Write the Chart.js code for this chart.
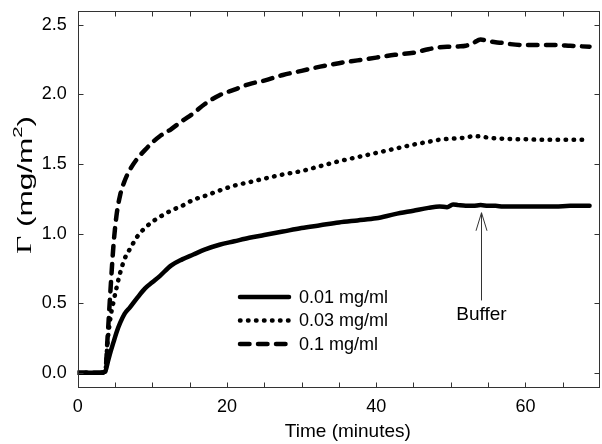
<!DOCTYPE html>
<html>
<head>
<meta charset="utf-8">
<script src="https://cdn.jsdelivr.net/npm/chart.js@4.4.1/dist/chart.umd.min.js"></script>
<style>
  html, body { margin: 0; padding: 0; background: #fff; }
  canvas { display: block; }
</style>
</head>
<body>
<canvas id="chart" width="602" height="444"></canvas>
<script>
// Adsorbed amount (mg/m2) against time (minutes)
const time = [0, 1, 2, 3, 3.7, 4.0, 4.4, 4.8, 5.2, 5.7, 6.3, 7, 8, 9, 10, 11, 12.5, 14, 15.5, 17, 19, 21, 23, 25,
  27.5, 30, 32.5, 35, 37.5, 40, 42.5, 45, 47, 48.5, 49.5, 50.3, 51, 52, 53, 54, 55, 56, 57, 58, 60, 62, 64, 66, 68.6];

const conc001 = [0, 0, 0, 0, 0.01, 0.07, 0.15, 0.22, 0.29, 0.36, 0.425, 0.47, 0.54, 0.605, 0.65, 0.695, 0.77, 0.815,
  0.85, 0.885, 0.92, 0.945, 0.97, 0.99, 1.015, 1.04, 1.06, 1.08, 1.095, 1.11, 1.14, 1.165, 1.185, 1.195, 1.19, 1.21,
  1.205, 1.2, 1.2, 1.205, 1.2, 1.2, 1.195, 1.195, 1.195, 1.195, 1.195, 1.2, 1.2];

const conc003 = [0, 0, 0, 0, 0.01, 0.22, 0.40, 0.51, 0.61, 0.72, 0.82, 0.89, 0.98, 1.04, 1.085, 1.12, 1.165, 1.2,
  1.243, 1.27, 1.31, 1.345, 1.37, 1.395, 1.425, 1.45, 1.485, 1.52, 1.55, 1.58, 1.61, 1.64, 1.66, 1.675, 1.68, 1.683,
  1.686, 1.69, 1.70, 1.698, 1.69, 1.685, 1.682, 1.68, 1.678, 1.675, 1.675, 1.675, 1.675];

const conc01 = [0, 0, 0, 0, 0.01, 0.25, 0.6, 0.92, 1.13, 1.28, 1.38, 1.46, 1.54, 1.6, 1.655, 1.7, 1.75, 1.81, 1.865,
  1.93, 1.995, 2.035, 2.075, 2.1, 2.14, 2.17, 2.2, 2.225, 2.245, 2.265, 2.285, 2.3, 2.325, 2.34, 2.343, 2.343, 2.345,
  2.35, 2.37, 2.395, 2.385, 2.375, 2.37, 2.362, 2.355, 2.355, 2.355, 2.35, 2.343];

const seriesLabels = ['0.01 mg/ml', '0.03 mg/ml', '0.1 mg/ml'];
const xTicks = [0, 20, 40, 60];
const yTicks = [0.0, 0.5, 1.0, 1.5, 2.0, 2.5];

// buffer rinse marker: time, arrow tip and tail
const bufferTime = 54;
const bufferTip = 1.15;
const bufferTail = 0.52;
const bufferLabelY = 0.42;

const FONT = "'Liberation Sans', Arial, sans-serif";

function toPoints(values) {
  return time.map((t, i) => ({ x: t, y: values[i] }));
}

const lineBase = {
  borderColor: '#000',
  borderWidth: 4.5,
  borderCapStyle: 'round',
  borderJoinStyle: 'round',
  pointRadius: 0,
  fill: false,
  cubicInterpolationMode: 'monotone'
};

// frame, inward ticks, legend, annotation and axis titles
const decorations = {
  id: 'decorations',
  afterDraw(chart) {
    const { ctx, chartArea: a, scales: { x, y } } = chart;
    ctx.save();

    const L = Math.round(a.left) + 0.5;
    const R = Math.round(a.right) - 0.5;
    const T = Math.round(a.top) + 0.5;
    const B = Math.round(a.bottom) + 0.5;
    ctx.strokeStyle = '#333';
    ctx.lineWidth = 1;
    ctx.setLineDash([]);
    ctx.strokeRect(L, T, R - L, B - T);

    ctx.beginPath();
    for (let v = 5; v < x.max; v += 5) {
      const px = Math.round(x.getPixelForValue(v)) + 0.5;
      ctx.moveTo(px, B); ctx.lineTo(px, B - 5);
      ctx.moveTo(px, T); ctx.lineTo(px, T + 5);
    }
    yTicks.forEach(v => {
      const py = Math.round(y.getPixelForValue(v)) + 0.5;
      ctx.moveTo(L, py); ctx.lineTo(L + 5, py);
      ctx.moveTo(R, py); ctx.lineTo(R - 5, py);
    });
    ctx.stroke();

    // legend
    chart.data.datasets.forEach((ds, i) => {
      const ly = 297 + i * 23.5;
      ctx.save();
      ctx.strokeStyle = ds.borderColor;
      ctx.lineWidth = ds.borderWidth;
      ctx.lineCap = 'round';
      ctx.setLineDash(ds.borderDash || []);
      ctx.beginPath();
      ctx.moveTo(240, ly);
      ctx.lineTo(289, ly);
      ctx.stroke();
      ctx.restore();
      ctx.fillStyle = '#000';
      ctx.font = `18px ${FONT}`;
      ctx.textAlign = 'left';
      ctx.textBaseline = 'middle';
      ctx.fillText(ds.label, 299, ly + 1);
    });

    // buffer arrow
    const bx = Math.round(x.getPixelForValue(bufferTime)) + 0.5;
    const tipY = y.getPixelForValue(bufferTip);
    ctx.strokeStyle = '#333';
    ctx.lineWidth = 1;
    ctx.beginPath();
    ctx.moveTo(bx, y.getPixelForValue(bufferTail));
    ctx.lineTo(bx, tipY);
    ctx.moveTo(bx - 5.5, tipY + 18);
    ctx.lineTo(bx, tipY);
    ctx.lineTo(bx + 5.5, tipY + 18);
    ctx.stroke();
    ctx.fillStyle = '#000';
    ctx.font = `19px ${FONT}`;
    ctx.textAlign = 'center';
    ctx.textBaseline = 'middle';
    ctx.fillText('Buffer', bx, y.getPixelForValue(bufferLabelY));

    // x title
    ctx.fillText('Time (minutes)', (a.left + a.right) / 2 + 9, 432);

    // y title, Gamma in a serif face and a raised 2, stretched to the span in the figure
    ctx.translate(26, 185);
    ctx.rotate(-Math.PI / 2);
    const parts = [
      { t: '\u0393', font: `20px 'Liberation Serif', serif`, dy: 0 },
      { t: ' (mg/m', font: `20px ${FONT}`, dy: 0 },
      { t: '2', font: `13px ${FONT}`, dy: -8 },
      { t: ')', font: `20px ${FONT}`, dy: 0 }
    ];
    let total = 0;
    parts.forEach(p => { ctx.font = p.font; p.w = ctx.measureText(p.t).width; total += p.w; });
    ctx.scale(138 / total, 1);
    let cx = -total / 2;
    ctx.textAlign = 'left';
    parts.forEach(p => {
      ctx.font = p.font;
      ctx.fillText(p.t, cx, p.dy);
      cx += p.w;
    });

    ctx.restore();
  }
};

new Chart(document.getElementById('chart'), {
  type: 'line',
  data: {
    datasets: [
      { ...lineBase, label: seriesLabels[0], data: toPoints(conc001) },
      { ...lineBase, label: seriesLabels[1], data: toPoints(conc003), borderDash: [0.5, 7.5] },
      { ...lineBase, label: seriesLabels[2], data: toPoints(conc01), borderDash: [9.5, 8.5] }
    ]
  },
  options: {
    responsive: false,
    animation: false,
    layout: { padding: { top: 11, right: 2, left: 0, bottom: 0 } },
    plugins: { legend: { display: false }, tooltip: { enabled: false } },
    scales: {
      x: {
        type: 'linear',
        min: 0,
        max: 70,
        grid: { display: false, drawTicks: false },
        border: { display: false },
        afterBuildTicks: s => { s.ticks = xTicks.map(v => ({ value: v })); },
        afterFit: s => { s.height = 57.3; s.paddingLeft = 0; s.paddingRight = 0; },
        ticks: { padding: 10, color: '#000', font: { family: FONT, size: 18 }, callback: v => String(v) }
      },
      y: {
        type: 'linear',
        min: -0.1,
        max: 2.6,
        grid: { display: false, drawTicks: false },
        border: { display: false },
        afterBuildTicks: s => { s.ticks = yTicks.map(v => ({ value: v })); },
        afterFit: s => { s.width = 77.7; s.paddingTop = 0; s.paddingBottom = 0; },
        ticks: { padding: 11, color: '#000', font: { family: FONT, size: 18 }, callback: v => v.toFixed(1) }
      }
    }
  },
  plugins: [decorations]
});
</script>
</body>
</html>
